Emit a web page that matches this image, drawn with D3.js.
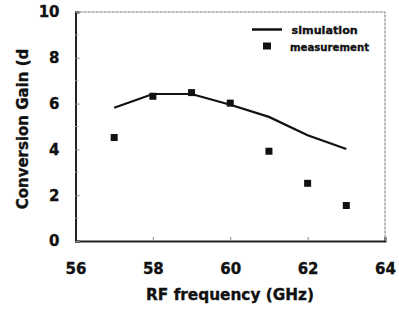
<!DOCTYPE html>
<html>
<head>
<meta charset="utf-8">
<script src="https://cdn.jsdelivr.net/npm/d3@7"></script>
<style>
  body { margin: 0; background: #fff; }
</style>
</head>
<body>
<div id="chart"></div>
<script>
// frequencies (GHz)
var freqs = [57, 58, 59, 60, 61, 62, 63];
var simulation = [5.82, 6.42, 6.42, 5.95, 5.42, 4.62, 4.02];
var measurement = [4.52, 6.32, 6.48, 6.02, 3.92, 2.52, 1.55];
var xTicks = [56, 58, 60, 62, 64];
var yTicks = [0, 2, 4, 6, 8, 10];

var FONT = "'DejaVu Sans', Verdana, sans-serif";

var width = 399, height = 309;
var margin = { top: 12, right: 14, bottom: 68, left: 75.5 };
var w = width - margin.left - margin.right;
var h = height - margin.top - margin.bottom;

var svg = d3.select("#chart").append("svg")
    .attr("width", width)
    .attr("height", height);

var g = svg.append("g")
    .attr("transform", "translate(" + margin.left + "," + margin.top + ")");

var x = d3.scaleLinear().domain([56, 64]).range([0, w]);
var y = d3.scaleLinear().domain([0, 10]).range([h, 0]);

// heavy bold text like the scanned original
function boldText(sel, size) {
  sel.style("font-family", FONT)
     .style("font-weight", "700")
     .style("font-size", size + "px")
     .attr("fill", "#111")
     .attr("stroke", "#111")
     .attr("stroke-width", 0.35);
}

// faint top/right frame
g.append("path")
    .attr("d", "M0,0H" + w + "V" + h)
    .attr("fill", "none")
    .attr("stroke", "#777")
    .attr("stroke-width", 1)
    .attr("stroke-dasharray", "3,1");

// axes with inward ticks
var xAxis = d3.axisBottom(x).tickValues(xTicks).tickSize(-4).tickPadding(22);
var yAxis = d3.axisLeft(y).tickValues(yTicks).tickSize(-4).tickPadding(16);

var gx = g.append("g").attr("transform", "translate(0," + h + ")").call(xAxis);
var gy = g.append("g").call(yAxis);

[gx, gy].forEach(function (a) {
  a.select(".domain").attr("stroke", "#222").attr("stroke-width", 2);
  a.selectAll(".tick line").attr("stroke", "#888");
  a.selectAll(".tick text").call(boldText, 15);
});

// minor y ticks
g.selectAll(".minor")
    .data([1, 3, 5, 7, 9])
    .enter().append("line")
    .attr("x1", 0).attr("x2", 3)
    .attr("y1", function (d) { return y(d); })
    .attr("y2", function (d) { return y(d); })
    .attr("stroke", "#aaa");

// simulation line
var line = d3.line()
    .x(function (d, i) { return x(freqs[i]); })
    .y(function (d) { return y(d); });

g.append("path")
    .datum(simulation)
    .attr("d", line)
    .attr("fill", "none")
    .attr("stroke", "#111")
    .attr("stroke-width", 2.2);

// measurement squares
var s = 7;
g.selectAll(".meas")
    .data(measurement)
    .enter().append("rect")
    .attr("x", function (d, i) { return x(freqs[i]) - s / 2; })
    .attr("y", function (d) { return y(d) - s / 2; })
    .attr("width", s)
    .attr("height", s)
    .attr("fill", "#111");

// legend
var lg = svg.append("g");
lg.append("line")
    .attr("x1", 252).attr("x2", 282)
    .attr("y1", 29.5).attr("y2", 29.5)
    .attr("stroke", "#111").attr("stroke-width", 2.5);
lg.append("text").attr("x", 291.5).attr("y", 33.5).text("simulation")
    .call(boldText, 11.2);
lg.append("rect").attr("x", 263).attr("y", 42.5).attr("width", 8).attr("height", 7).attr("fill", "#111");
lg.append("text").attr("x", 290).attr("y", 50.5).text("measurement")
    .call(boldText, 11.2)
    .attr("textLength", 79).attr("lengthAdjust", "spacingAndGlyphs");

// axis titles
svg.append("text")
    .attr("x", 230)
    .attr("y", 300)
    .attr("text-anchor", "middle")
    .text("RF frequency (GHz)")
    .call(boldText, 15.3);

svg.append("text")
    .attr("transform", "translate(27.5,129) rotate(-90)")
    .attr("text-anchor", "middle")
    .text("Conversion Gain (d")
    .call(boldText, 15);
</script>
</body>
</html>
